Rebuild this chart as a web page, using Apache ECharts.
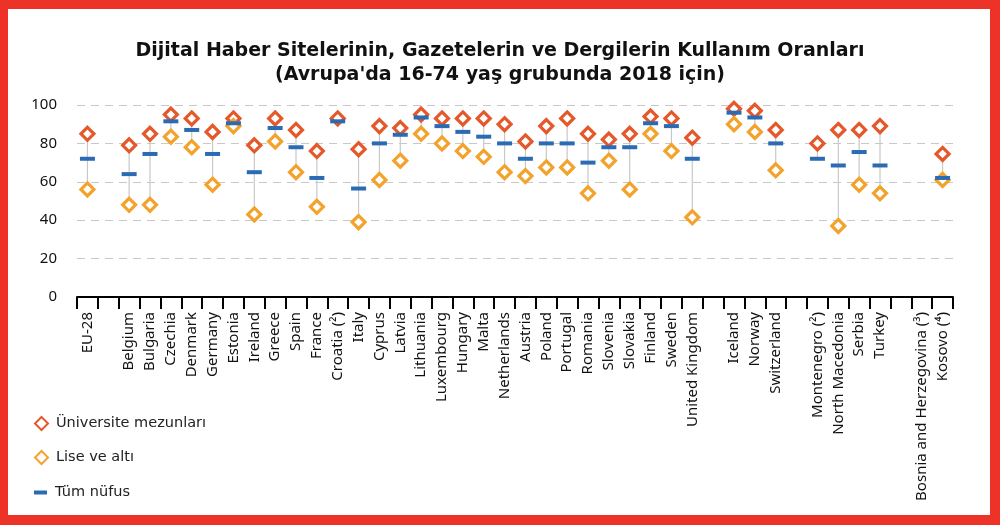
<!DOCTYPE html>
<html>
<head>
<meta charset="utf-8">
<script src="https://cdn.jsdelivr.net/npm/echarts@6/dist/echarts.min.js"></script>
<style>
html,body{margin:0;padding:0;background:#fff;}
#wrap{position:relative;width:1000px;height:525px;}
#chart{position:absolute;left:0;top:0;width:1000px;height:525px;}
#frame{position:absolute;left:0;top:0;width:1000px;height:525px;box-sizing:border-box;
border-style:solid;border-color:#ED3227;border-width:9px 10px 10px 8px;pointer-events:none;}
</style>
</head>
<body>
<div id="wrap"><div id="chart"></div><div id="frame"></div></div>
<script>
const categories = ["EU-28","","Belgium","Bulgaria","Czechia","Denmark","Germany","Estonia","Ireland","Greece","Spain","France","Croatia (²)","Italy","Cyprus","Latvia","Lithuania","Luxembourg","Hungary","Malta","Netherlands","Austria","Poland","Portugal","Romania","Slovenia","Slovakia","Finland","Sweden","United Kingdom"," ","Iceland","Norway","Switzerland","  ","Montenegro (²)","North Macedonia","Serbia","Turkey","   ","Bosnia and Herzegovina (³)","Kosovo (⁴)"];
const university = [85,null,79,85,95,93,86,93,79,93,87,76,93,77,89,88,95,93,93,93,90,81,89,93,85,82,85,94,93,83,null,98,97,87,null,80,87,87,89,null,null,74.5];
const lowerEdu = [56,null,48,48,83.5,78,58.5,89,43,81,65,47,null,39,61,71,85,80,76,73,65,63,67.5,67.5,54,71,56,85,76,41.5,null,90,86,66,null,null,37,58.5,54,null,null,61];
const allPop = [72,null,64,74.5,91.5,87,74.5,90.5,65,88,78,62,91.5,56.5,80,84.5,93.5,89,86,83.5,80,72,80,80,70,78,78,90.5,89,72,null,96,93.5,80,null,72,68.5,75.5,68.5,null,null,62];
const yTicks = [0,20,40,60,80,100];
const legendNames = ["Üniversite mezunları","Lise ve altı","Tüm nüfus"];

const rangeData = categories.map((c,i)=>{
  const v=[university[i],lowerEdu[i],allPop[i]].filter(x=>x!=null);
  if(v.length<2) return [i,null,null];
  return [i,Math.min(...v),Math.max(...v)];
});

const chart = echarts.init(document.getElementById('chart'));
const orange='#E4582A', yellow='#F3A22B', blue='#2A6BB4';
const legendBase = {orient:'vertical',left:29,itemGap:0,selectedMode:false,
  textStyle:{fontFamily:'DejaVu Sans',fontSize:14.5,color:'#222',padding:[0,0,0,3]}};
chart.setOption({
  animation:false,
  title:{text:'Dijital Haber Sitelerinin, Gazetelerin ve Dergilerin Kullanım Oranları\n(Avrupa\'da 16-74 yaş grubunda 2018 için)',
    left:'center',top:34,
    textStyle:{fontFamily:'DejaVu Sans',fontWeight:'bold',fontSize:19,color:'#111',lineHeight:24,align:'center'}},
  legend:[
    Object.assign({},legendBase,{top:411,itemWidth:13,itemHeight:13,data:[{name:legendNames[0],icon:'diamond'}]}),
    Object.assign({},legendBase,{top:445,itemWidth:13,itemHeight:13,data:[{name:legendNames[1],icon:'diamond'}]}),
    Object.assign({},legendBase,{top:480,itemWidth:13,itemHeight:4,data:[{name:legendNames[2],icon:'rect'}]})
  ],
  grid:{left:77,right:47,top:105,bottom:228,containLabel:false},
  xAxis:{type:'category',data:categories,boundaryGap:true,
    axisLine:{lineStyle:{color:'#000',width:2}},
    axisTick:{show:true,interval:0,length:12,lineStyle:{color:'#000',width:2}},
    axisLabel:{interval:0,rotate:90,margin:15,fontFamily:'Noto Sans',fontSize:15,color:'#111'}},
  yAxis:{type:'value',min:0,max:100,interval:20,
    axisLine:{show:false},axisTick:{show:false},
    axisLabel:{margin:20,fontFamily:'Noto Sans',fontSize:15,color:'#111',
      formatter:v=>yTicks.includes(v)?String(v):''},
    splitLine:{lineStyle:{color:'#c8c8c8',type:[8,6],width:1.2}}},
  series:[
    {type:'custom',name:'range',z:1,silent:true,
      renderItem:function(params,api){
        if(api.value(1)==null||isNaN(api.value(1))) return null;
        const p1=api.coord([api.value(0),api.value(1)]);
        const p2=api.coord([api.value(0),api.value(2)]);
        return {type:'line',shape:{x1:p1[0],y1:p1[1],x2:p2[0],y2:p2[1]},
          style:{stroke:'#c8c8c8',lineWidth:1.2}};
      },
      data:rangeData},
    {type:'scatter',name:legendNames[0],z:3,data:university,symbol:'diamond',symbolSize:13,
      itemStyle:{color:'#fff',borderColor:orange,borderWidth:3.2,opacity:1}},
    {type:'scatter',name:legendNames[1],z:4,data:lowerEdu,symbol:'diamond',symbolSize:13,
      itemStyle:{color:'#fff',borderColor:yellow,borderWidth:3.2,opacity:1}},
    {type:'scatter',name:legendNames[2],z:5,data:allPop,symbol:'rect',symbolSize:[15,4],
      itemStyle:{color:blue,opacity:1}}
  ]
});
</script>
</body>
</html>
